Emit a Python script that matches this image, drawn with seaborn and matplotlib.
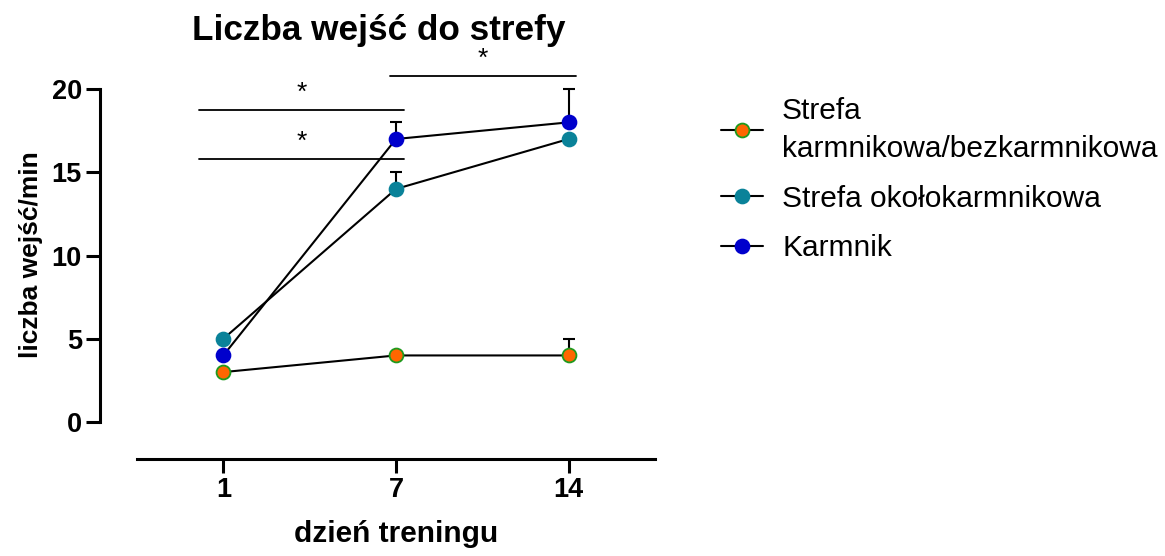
import numpy as np
import pandas as pd
import matplotlib
matplotlib.use("Agg")
import matplotlib.pyplot as plt
import seaborn as sns
from matplotlib.lines import Line2D

sns.set_style("ticks")
plt.rcParams['font.family'] = ['Liberation Sans', 'DejaVu Sans']
for k in ['text.color', 'axes.labelcolor', 'xtick.color', 'ytick.color', 'axes.edgecolor']:
    plt.rcParams[k] = 'black'

days = ["1", "7", "14"]
series_names = ["Strefa\nkarmnikowa/bezkarmnikowa", "Strefa okołokarmnikowa", "Karmnik"]
vals_strefa = [3, 4, 4]
err_strefa = [0, 0, 1]
vals_okolo = [5, 14, 17]
err_okolo = [0, 1, 0]
vals_karmnik = [4, 17, 18]
err_karmnik = [0, 1, 2]
face_colors = ["#FF6600", "#0A8299", "#0000CC"]
edge_colors = ["#1E9A1E", "#0A8299", "#0000CC"]

# significance brackets
sig_x0 = [-0.14, -0.14, 0.965]
sig_x1 = [1.047, 1.047, 2.04]
sig_y = [18.75, 15.8, 20.8]
sig_txt = ["*", "*", "*"]

fig = plt.figure(figsize=(11.65, 5.56), dpi=100)
ax = fig.add_axes([137/1165, 1-459/556, (655-137)/1165, (459-72.4)/556])

xpos = np.arange(len(days))
all_vals = [vals_strefa, vals_okolo, vals_karmnik]
all_errs = [err_strefa, err_okolo, err_karmnik]

for i in [1, 2, 0]:
    df = pd.DataFrame({"x": xpos, "y": all_vals[i]})
    e = np.array(all_errs[i])
    mask = e > 0
    ax.errorbar(xpos[mask], np.array(all_vals[i])[mask],
                yerr=[np.zeros(mask.sum()), e[mask]], fmt='none',
                ecolor='black', elinewidth=1.5, capsize=4, capthick=1.5, zorder=2 + i)
    sns.lineplot(data=df, x="x", y="y", ax=ax, color='black', linewidth=1.5,
                 marker='o', markersize=10, markerfacecolor=face_colors[i],
                 markeredgecolor=edge_colors[i], markeredgewidth=1.3, zorder=3 + i)

for x0, x1, y, t in zip(sig_x0, sig_x1, sig_y, sig_txt):
    ax.plot([x0, x1], [y, y], color='black', lw=1.3, clip_on=False)
    ax.text((x0 + x1) / 2, y + 0.3, t, ha='center', va='bottom', fontsize=19)

ax.set_xlim(-0.5, 2.5)
ax.set_ylim(-2.22, 21)
ax.set_xticks(xpos)
ax.set_xticklabels(days)
ax.set_yticks([0, 5, 10, 15, 20])
ax.spines['top'].set_visible(False)
ax.spines['right'].set_visible(False)
ax.spines['left'].set_position(('outward', 37 * 0.72))
ax.spines['left'].set_bounds(0, 20)
for s in ['left', 'bottom']:
    ax.spines[s].set_linewidth(2.2)
ax.tick_params(axis='both', width=2.2, length=10, labelsize=19.5, pad=3)
for lab in ax.get_xticklabels() + ax.get_yticklabels():
    lab.set_fontweight('bold')
ax.set_xlabel("dzień treningu", fontsize=21.5, fontweight='bold')
ax.set_ylabel("liczba wejść/min", fontsize=19, fontweight='bold')
ax.xaxis.label.set_va('center')
ax.yaxis.label.set_va('center')
ax.xaxis.set_label_coords(0.5, (459 - 534) / 386.6)
ax.yaxis.set_label_coords((31 - 137) / 518, (459 - 255) / 386.6)

fig.text(379/1165, 1-40/556, "Liczba wejść do strefy", ha='center', va='baseline',
         fontsize=25.3, fontweight='bold')

handles = [Line2D([0], [0], color='black', lw=1.5, marker='o', markersize=10,
                  markerfacecolor=face_colors[i], markeredgecolor=edge_colors[i],
                  markeredgewidth=1.3) for i in range(3)]
leg = fig.legend(handles, series_names, loc='upper left', bbox_to_anchor=(694/1165, 1-70/556),
                 frameon=False, fontsize=21.5, handlelength=1.4, handletextpad=0.65,
                 labelspacing=0.73)
leg.get_texts()[0].set_linespacing(1.45)

fig.savefig("out.png", dpi=100)
